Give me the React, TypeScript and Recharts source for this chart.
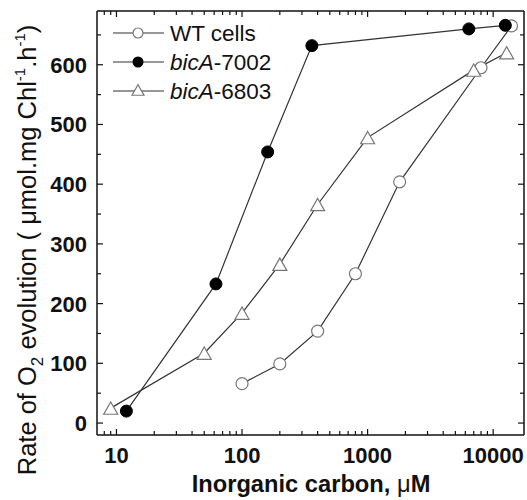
import { LineChart, Line, XAxis, YAxis, Legend } from 'recharts'

// O2 evolution vs inorganic carbon (log x)
const wtCi = [100, 200, 400, 800, 1800, 8000, 14000]
const wtRate = [66, 99, 154, 250, 404, 595, 665]
const bic7002Ci = [12, 62, 160, 360, 6400, 12500]
const bic7002Rate = [20, 233, 454, 632, 660, 666]
const bic6803Ci = [9, 50, 100, 200, 400, 1000, 7000, 12800]
const bic6803Rate = [25, 117, 184, 266, 366, 478, 591, 620]

const xTicks = [
  8, 9, 10, 20, 30, 40, 50, 60, 70, 80, 90, 100, 200, 300, 400, 500, 600, 700, 800, 900,
  1000, 2000, 3000, 4000, 5000, 6000, 7000, 8000, 9000, 10000,
]
const xLabels = [10, 100, 1000, 10000]
const yTicks = [0, 50, 100, 150, 200, 250, 300, 350, 400, 450, 500, 550, 600, 650]
const yLabels = [0, 100, 200, 300, 400, 500, 600]

const wtData = wtCi.map((x, i) => ({ x, y: wtRate[i] }))
const bic7002Data = bic7002Ci.map((x, i) => ({ x, y: bic7002Rate[i] }))
const bic6803Data = bic6803Ci.map((x, i) => ({ x, y: bic6803Rate[i] }))

const FONT = '"Liberation Sans", Arial, Helvetica, sans-serif'
const INK = '#111'
const LINE = '#333'
const OPEN = '#777'

const tickText = { fontFamily: FONT, fontSize: 22, fontWeight: 700, fill: INK }

function BottomTick({ x, y, payload }: any) {
  const major = xLabels.includes(payload.value)
  return (
    <g>
      <line x1={x} x2={x} y1={y} y2={y - (major ? 6 : 4)} stroke={INK} strokeWidth={1.2} />
      {major && (
        <text x={x} y={y + 28} textAnchor="middle" {...tickText}>
          {payload.value}
        </text>
      )}
    </g>
  )
}

function TopTick({ x, y, payload }: any) {
  const major = xLabels.includes(payload.value)
  return <line x1={x} x2={x} y1={y} y2={y + (major ? 6 : 4)} stroke={INK} strokeWidth={1.2} />
}

function LeftTick({ x, y, payload }: any) {
  const major = yLabels.includes(payload.value)
  return (
    <g>
      <line x1={x} x2={x + (major ? 6 : 4)} y1={y} y2={y} stroke={INK} strokeWidth={1.2} />
      {major && (
        <text x={x - 10} y={y + 8} textAnchor="end" {...tickText}>
          {payload.value}
        </text>
      )}
    </g>
  )
}

function RightTick({ x, y, payload }: any) {
  const major = yLabels.includes(payload.value)
  return <line x1={x} x2={x - (major ? 6 : 4)} y1={y} y2={y} stroke={INK} strokeWidth={1.2} />
}

function Triangle({ cx, cy, size = 7 }: any) {
  if (cx == null || cy == null) return <g />
  const h = size * 1.75
  return (
    <polygon
      points={`${cx - size},${cy + h / 2} ${cx + size},${cy + h / 2} ${cx},${cy - h / 2}`}
      fill="#fff"
      stroke={OPEN}
      strokeWidth={1.2}
    />
  )
}

const xTitle = () => (
  <text x={311} y={492} textAnchor="middle" fontFamily={FONT} fontSize={23.7} fontWeight={700} fill={INK}>
    Inorganic carbon, <tspan fontWeight={400}>μ</tspan>M
  </text>
)

const yTitle = () => (
  <text
    transform="translate(36, 250) rotate(-90)"
    textAnchor="middle"
    fontFamily={FONT}
    fontSize={25.5}
    fill={INK}
  >
    Rate of O
    <tspan fontSize={17} dy={7}>2</tspan>
    <tspan dy={-7}> evolution ( μmol.mg Chl</tspan>
    <tspan fontSize={15} dy={-11}>-1</tspan>
    <tspan dy={11}>.h</tspan>
    <tspan fontSize={15} dy={-11}>-1</tspan>
    <tspan dy={11}>)</tspan>
  </text>
)

const legendItems = [
  { italic: '', rest: 'WT cells', marker: 'open' },
  { italic: 'bicA', rest: '-7002', marker: 'filled' },
  { italic: 'bicA', rest: '-6803', marker: 'triangle' },
]

function LegendBox() {
  return (
    <svg width={170} height={90} style={{ overflow: 'visible' }}>
      {legendItems.map((it, i) => {
        const cy = 15 + i * 29
        return (
          <g key={it.rest}>
            <line x1={5} x2={56} y1={cy} y2={cy} stroke={LINE} strokeWidth={1.2} />
            {it.marker === 'open' && <circle cx={30} cy={cy} r={5} fill="#fff" stroke={OPEN} strokeWidth={1.2} />}
            {it.marker === 'filled' && <circle cx={30} cy={cy} r={5.5} fill="#000" />}
            {it.marker === 'triangle' && <Triangle cx={30} cy={cy - 1} size={6} />}
            <text x={62} y={cy + 8} fontFamily={FONT} fontSize={22.5} fill={INK}>
              {it.italic && <tspan fontStyle="italic">{it.italic}</tspan>}
              {it.rest}
            </text>
          </g>
        )
      })}
    </svg>
  )
}

export default function App() {
  return (
    <div style={{ position: 'absolute', left: 0, top: 0, width: 527, height: 500, background: '#fff' }}>
      <LineChart width={527} height={500} margin={{ top: 10, right: 2, bottom: 64, left: 96 }}>
        <XAxis
          dataKey="x"
          type="number"
          scale="log"
          domain={[7, 17600]}
          allowDataOverflow
          ticks={xTicks}
          interval={0}
          height={1}
          tickSize={0}
          tickMargin={0}
          tickLine={false}
          tick={<BottomTick />}
          axisLine={{ stroke: INK, strokeWidth: 1.5 }}
          label={xTitle}
        />
        <XAxis
          xAxisId="top"
          orientation="top"
          dataKey="x"
          type="number"
          scale="log"
          domain={[7, 17600]}
          allowDataOverflow
          ticks={xTicks}
          interval={0}
          height={1}
          tickSize={0}
          tickMargin={0}
          tickLine={false}
          tick={<TopTick />}
          axisLine={{ stroke: INK, strokeWidth: 1.5 }}
        />
        <YAxis
          type="number"
          domain={[-20, 690]}
          allowDataOverflow
          ticks={yTicks}
          interval={0}
          width={1}
          tickSize={0}
          tickMargin={0}
          tickLine={false}
          tick={<LeftTick />}
          axisLine={{ stroke: INK, strokeWidth: 1.5 }}
          label={yTitle}
        />
        <YAxis
          yAxisId="right"
          orientation="right"
          type="number"
          domain={[-20, 690]}
          allowDataOverflow
          ticks={yTicks}
          interval={0}
          width={1}
          tickSize={0}
          tickMargin={0}
          tickLine={false}
          tick={<RightTick />}
          axisLine={{ stroke: INK, strokeWidth: 1.5 }}
        />
        <Legend
          layout="horizontal"
          verticalAlign="middle"
          align="center"
          content={() => <LegendBox />}
          wrapperStyle={{ position: 'absolute', left: 108, top: 18, width: 170, height: 90 }}
        />
        <Line
          data={wtData}
          dataKey="y"
          name="WT cells"
          stroke={LINE}
          strokeWidth={1.2}
          dot={{ r: 6, fill: '#fff', stroke: OPEN, strokeWidth: 1.2 }}
          isAnimationActive={false}
        />
        <Line
          data={bic6803Data}
          dataKey="y"
          name="bicA-6803"
          stroke={LINE}
          strokeWidth={1.2}
          dot={(p: any) => (
            <g key={`tri-${p.index}`}>
              <Triangle cx={p.cx} cy={p.cy} size={7} />
            </g>
          )}
          isAnimationActive={false}
        />
        <Line
          data={bic7002Data}
          dataKey="y"
          name="bicA-7002"
          stroke={LINE}
          strokeWidth={1.2}
          dot={{ r: 6, fill: '#000', stroke: '#000', strokeWidth: 1 }}
          isAnimationActive={false}
        />
      </LineChart>
    </div>
  )
}
